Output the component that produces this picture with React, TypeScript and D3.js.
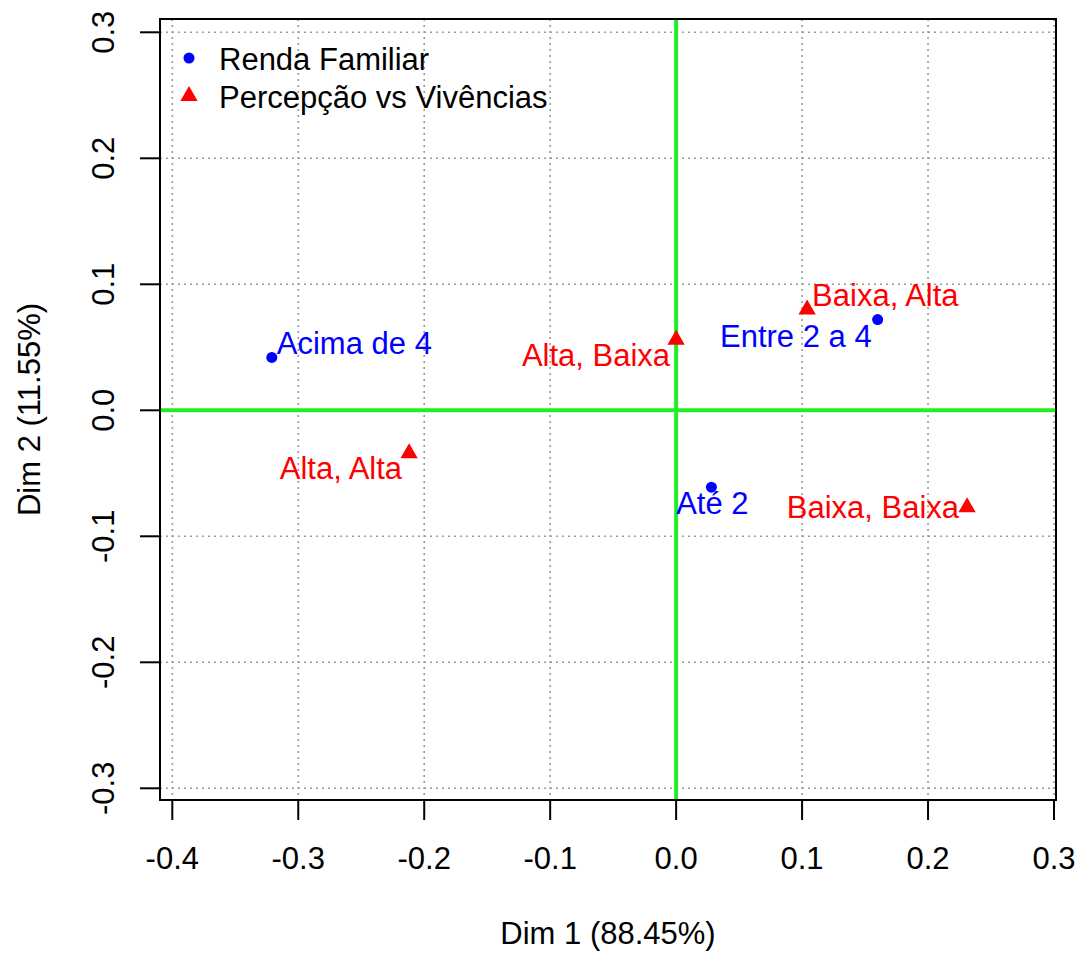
import * as d3 from "d3";

// dimension 1 / dimension 2 coordinates
const rendaLabels = ["Acima de 4", "Entre 2 a 4", "Até 2"];
const rendaDim1 = [-0.321, 0.16, 0.028];
const rendaDim2 = [0.042, 0.072, -0.061];

const percLabels = ["Alta, Baixa", "Alta, Alta", "Baixa, Alta", "Baixa, Baixa"];
const percDim1 = [0.0, -0.212, 0.104, 0.231];
const percDim2 = [0.056, -0.034, 0.08, -0.077];

const xTicks = [-0.4, -0.3, -0.2, -0.1, 0.0, 0.1, 0.2, 0.3];
const yTicks = [-0.3, -0.2, -0.1, 0.0, 0.1, 0.2, 0.3];

const legendItems = ["Renda Familiar", "Percepção vs Vivências"];

const xTitle = "Dim 1 (88.45%)";
const yTitle = "Dim 2 (11.55%)";

// label placement (anchor + pixel offset from point)
const labelPlace: Record<string, { anchor: string; dx: number; dy: number }> = {
  "Acima de 4": { anchor: "start", dx: 5, dy: -14 },
  "Entre 2 a 4": { anchor: "end", dx: -6, dy: 17 },
  "Até 2": { anchor: "middle", dx: 1, dy: 16 },
  "Alta, Baixa": { anchor: "end", dx: -6, dy: 15 },
  "Alta, Alta": { anchor: "end", dx: -7, dy: 15 },
  "Baixa, Alta": { anchor: "start", dx: 5, dy: -14 },
  "Baixa, Baixa": { anchor: "end", dx: -8, dy: 0 },
};

const W = 1081;
const H = 953;
const left = 160;
const right = 1056;
const top = 19;
const bottom = 800;

const BLUE = "#0000ff";
const RED = "#ff0000";
const FONT = "'Liberation Sans', Arial, sans-serif";
const FS = 31;

// R style tick labels (plain hyphen minus)
const fmt = (v: number) => (Math.abs(v) < 1e-9 ? 0 : v).toFixed(1);

export default function App() {
  const x = d3.scaleLinear().domain([-0.4, 0.3]).range([172.3, 1054]);
  const y = d3.scaleLinear().domain([-0.3, 0.3]).range([788.3, 32.3]);

  const tri = d3.symbol().type(d3.symbolTriangle).size(130)() as string;

  return (
    <svg width={W} height={H} style={{ position: "absolute", left: 0, top: 0, background: "#fff" }} fontFamily={FONT}>
      {/* grid */}
      {xTicks.map((t) => (
        <line key={"gx" + t} x1={x(t)} x2={x(t)} y1={top} y2={bottom} stroke="#9a9a9a" strokeWidth={1.6} strokeDasharray="2,4" />
      ))}
      {yTicks.map((t) => (
        <line key={"gy" + t} x1={left} x2={right} y1={y(t)} y2={y(t)} stroke="#9a9a9a" strokeWidth={1.6} strokeDasharray="2,4" />
      ))}

      {/* zero lines */}
      <line x1={x(0)} x2={x(0)} y1={top} y2={bottom} stroke="#22ee22" strokeWidth={4} />
      <line x1={left} x2={right} y1={y(0)} y2={y(0)} stroke="#22ee22" strokeWidth={4} />

      {/* box */}
      <rect x={left} y={top} width={right - left} height={bottom - top} fill="none" stroke="#000" strokeWidth={2} />

      {/* x axis */}
      {xTicks.map((t) => (
        <g key={"xt" + t}>
          <line x1={x(t)} x2={x(t)} y1={bottom} y2={bottom + 20} stroke="#000" strokeWidth={2} />
          <text x={x(t)} y={bottom + 69} textAnchor="middle" fontSize={FS} fill="#000">
            {fmt(t)}
          </text>
        </g>
      ))}
      {/* y axis */}
      {yTicks.map((t) => (
        <g key={"yt" + t}>
          <line x1={left - 20} x2={left} y1={y(t)} y2={y(t)} stroke="#000" strokeWidth={2} />
          <text transform={`translate(${left - 46},${y(t)}) rotate(-90)`} textAnchor="middle" fontSize={FS} fill="#000">
            {fmt(t)}
          </text>
        </g>
      ))}

      <text x={(left + right) / 2} y={944} textAnchor="middle" fontSize={FS} fill="#000">
        {xTitle}
      </text>
      <text transform={`translate(40,${(top + bottom) / 2}) rotate(-90)`} textAnchor="middle" fontSize={FS} fill="#000">
        {yTitle}
      </text>

      {/* Renda Familiar */}
      {rendaLabels.map((lab, i) => {
        const p = labelPlace[lab];
        const cx = x(rendaDim1[i]);
        const cy = y(rendaDim2[i]);
        return (
          <g key={lab}>
            <circle cx={cx} cy={cy} r={5.5} fill={BLUE} />
            <text x={cx + p.dx} y={cy + p.dy} dy="0.35em" textAnchor={p.anchor} fontSize={FS} fill={BLUE}>
              {lab}
            </text>
          </g>
        );
      })}

      {/* Percepção vs Vivências */}
      {percLabels.map((lab, i) => {
        const p = labelPlace[lab];
        const cx = x(percDim1[i]);
        const cy = y(percDim2[i]);
        return (
          <g key={lab}>
            <path d={tri} transform={`translate(${cx},${cy})`} fill={RED} />
            <text x={cx + p.dx} y={cy + p.dy} dy="0.35em" textAnchor={p.anchor} fontSize={FS} fill={RED}>
              {lab}
            </text>
          </g>
        );
      })}

      {/* legend */}
      <circle cx={189} cy={58} r={5.5} fill={BLUE} />
      <path d={tri} transform="translate(189,96)" fill={RED} />
      {legendItems.map((lab, i) => (
        <text key={lab} x={219} y={59 + i * 38} dy="0.35em" fontSize={FS} fill="#000">
          {lab}
        </text>
      ))}
    </svg>
  );
}
